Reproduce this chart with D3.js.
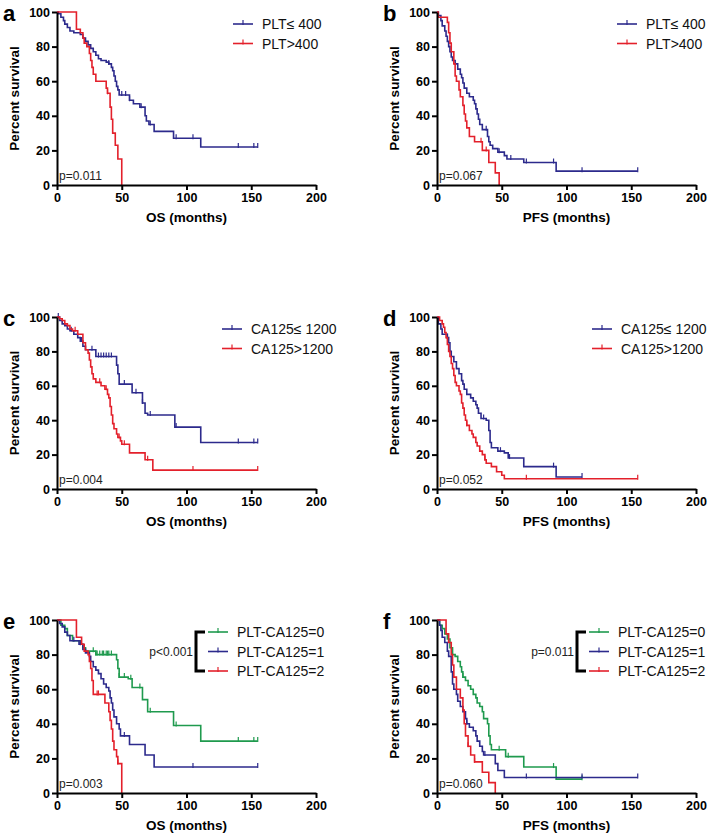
<!DOCTYPE html>
<html>
<head>
<meta charset="utf-8">
<script src="https://cdn.jsdelivr.net/npm/d3@7"></script>
<style>
  body { margin: 0; background: #fff; }
  svg { display: block; }
  text { font-family: Arial, "Liberation Sans", sans-serif; }
</style>
</head>
<body>
<div id="chart"></div>
<script>
// Kaplan-Meier steps: [time (months), survival % after the drop]
// censor arrays: times of censored patients (tick marks)

// a — OS by PLT
const osPltLowSteps = [[0,100],[1,99],[3,97],[5,95],[6,93],[8,91],[10,89],[13,88],[18,87],[20,85],[22,83],[24,81],[26,79],[28,77],[30,75],[32,73],[34,72],[38,71],[40,70],[42,68],[43,66],[44,63],[45,60],[46,57],[47,55],[48,52],[56,49],[59,47],[64,45],[68,40],[69,37],[71,35],[75,31],[90,27],[111,22]];
const osPltLowCens = [40,50,53,56,65,72,92,105,140,152,155];
const osPltHighSteps = [[0,100],[15,90],[18,88],[20,85],[21,82],[23,80],[25,76],[26,72],[27,68],[28,64],[30,60],[38,56],[39,53],[41,45],[42,38],[43,30],[45,23],[47,15],[50,0]];
const osPltHighCens = [39];

// b — PFS by PLT
const pfsPltLowSteps = [[0,100],[1,98],[3,95],[4,92],[6,89],[7,86],[8,83],[9,80],[10,77],[11,74],[12,72],[14,70],[16,67],[18,64],[19,62],[20,59],[21,56],[23,53],[25,51],[28,49],[29,47],[30,44],[31,41],[32,38],[33,35],[35,32],[39,28],[40,25],[41,23],[43,21],[47,19],[52,17],[54,15],[67,13],[92,8]];
const pfsPltLowCens = [38,48,57,69,90,112,155];
const pfsPltHighSteps = [[0,100],[1,97],[8,94],[9,88],[10,82],[11,77],[13,70],[14,63],[15,60],[17,55],[18,51],[20,46],[21,41],[22,37],[23,33],[25,28],[29,25],[35,20],[40,13],[45,7],[48,0]];
const pfsPltHighCens = [34,38];

// c — OS by CA125
const osCaLowSteps = [[0,100],[2,98],[4,96],[6,95],[8,93],[10,92],[13,90],[16,88],[18,86],[20,83],[22,81],[30,77],[46,72],[47,67],[48,61],[58,56],[66,50],[68,44],[70,43],[91,36],[111,27]];
const osCaLowCens = [1,11,19,27,32,34,36,38,40,42,52,61,66,72,92,140,152,155];
const osCaHighSteps = [[0,100],[2,99],[4,98],[6,96],[8,95],[10,93],[12,92],[16,90],[20,85],[22,81],[24,79],[25,75],[26,71],[27,67],[28,64],[30,62],[34,60],[37,58],[39,55],[40,53],[41,48],[42,43],[43,38],[44,35],[46,32],[47,30],[49,28],[50,26],[56,21],[68,17],[74,11]];
const osCaHighCens = [14,33,38,48,52,70,105,155];

// d — PFS by CA125
const pfsCaLowSteps = [[0,100],[1,96],[3,93],[4,90],[8,88],[9,85],[10,80],[11,77],[13,74],[15,70],[17,67],[19,63],[20,61],[21,58],[23,55],[26,53],[28,51],[30,49],[31,47],[32,44],[34,41],[38,40],[40,34],[41,27],[42,24],[47,22],[52,21],[55,18],[67,13],[92,7]];
const pfsCaLowCens = [8,36,49,56,90,112];
const pfsCaHighSteps = [[0,100],[2,98],[4,96],[5,94],[6,91],[7,88],[8,84],[9,80],[10,77],[11,73],[12,70],[13,66],[14,62],[15,60],[17,57],[18,55],[19,50],[20,47],[21,43],[22,40],[23,37],[25,34],[27,32],[28,30],[30,27],[31,25],[33,22],[35,20],[37,17],[38,15],[42,13],[46,10],[50,8],[52,6]];
const pfsCaHighCens = [23,37,69,155];

// e — OS by PLT-CA125 score
const osScore0Steps = [[0,100],[3,97],[6,95],[8,91],[12,88],[18,86],[20,84],[22,82],[30,80],[46,77],[47,72],[48,67],[55,66],[58,61],[66,54],[70,47],[90,39],[111,30]];
const osScore0Cens = [22,28,30,31,33,35,36,38,39,40,42,48,52,57,64,72,92,140,152,155];
const osScore1Steps = [[0,100],[2,98],[4,96],[6,93],[8,91],[10,88],[17,86],[20,83],[22,81],[25,79],[26,76],[28,73],[30,71],[32,69],[34,66],[36,63],[38,61],[40,59],[41,55],[42,52],[43,48],[44,44],[46,40],[48,37],[49,33],[56,28],[68,22],[75,15]];
const osScore1Cens = [13,18,52,105,155];
const osScore2Steps = [[0,100],[15,90],[19,86],[21,82],[24,80],[25,76],[26,72],[27,65],[28,57],[37,52],[40,47],[41,42],[42,37],[43,30],[44,25],[46,21],[47,17],[50,0]];
const osScore2Cens = [31,32,47];

// f — PFS by PLT-CA125 score
const pfsScore0Steps = [[0,100],[2,97],[4,95],[6,92],[8,89],[10,84],[12,80],[14,79],[16,76],[18,73],[19,70],[20,67],[22,65],[24,62],[26,60],[28,57],[30,55],[31,52],[33,50],[35,47],[36,43],[39,40],[40,33],[41,28],[42,25],[53,21],[67,15],[92,8]];
const pfsScore0Cens = [20,48,55,90,112];
const pfsScore1Steps = [[0,100],[2,97],[3,94],[4,90],[6,87],[8,82],[9,79],[11,70],[12,63],[13,60],[15,57],[16,53],[18,50],[20,47],[22,43],[23,40],[25,38],[28,36],[30,33],[31,30],[33,27],[35,24],[36,22],[45,17],[47,13],[52,9]];
const pfsScore1Cens = [23,37,69,112,155];
const pfsScore2Steps = [[0,100],[7,92],[9,87],[11,80],[12,74],[13,67],[15,60],[18,55],[20,48],[21,40],[22,33],[24,27],[26,22],[29,18],[35,12],[40,6],[45,0]];
const pfsScore2Cens = [24,29];

const xTicks = [0, 50, 100, 150, 200];
const yTicks = [0, 20, 40, 60, 80, 100];
const pltLabels = ['PLT\u2264 400', 'PLT>400'];
const caLabels = ['CA125\u2264 1200', 'CA125>1200'];
const scoreLabels = ['PLT-CA125=0', 'PLT-CA125=1', 'PLT-CA125=2'];

const BLUE = '#2c2a8c', RED = '#e3202b', GREEN = '#1f9a4e';

const cols = [{x0: 57, x1: 316}, {x0: 437, x1: 696}];
const rows = [{y0: 185, y1: 12}, {y0: 489, y1: 317}, {y0: 793, y1: 620}];

const panels = [
  {letter: 'a', col: 0, row: 0, xlab: 'OS (months)', p: 'p=0.011', legX: 176, labels: pltLabels,
   curves: [[osPltLowSteps, osPltLowCens, BLUE], [osPltHighSteps, osPltHighCens, RED]]},
  {letter: 'b', col: 1, row: 0, xlab: 'PFS (months)', p: 'p=0.067', legX: 180, labels: pltLabels,
   curves: [[pfsPltLowSteps, pfsPltLowCens, BLUE], [pfsPltHighSteps, pfsPltHighCens, RED]]},
  {letter: 'c', col: 0, row: 1, xlab: 'OS (months)', p: 'p=0.004', legX: 165, labels: caLabels,
   curves: [[osCaLowSteps, osCaLowCens, BLUE], [osCaHighSteps, osCaHighCens, RED]]},
  {letter: 'd', col: 1, row: 1, xlab: 'PFS (months)', p: 'p=0.052', legX: 155, labels: caLabels,
   curves: [[pfsCaLowSteps, pfsCaLowCens, BLUE], [pfsCaHighSteps, pfsCaHighCens, RED]]},
  {letter: 'e', col: 0, row: 2, xlab: 'OS (months)', p: 'p=0.003', legX: 151, labels: scoreLabels, bracket: 'p<0.001',
   curves: [[osScore0Steps, osScore0Cens, GREEN], [osScore1Steps, osScore1Cens, BLUE], [osScore2Steps, osScore2Cens, RED]]},
  {letter: 'f', col: 1, row: 2, xlab: 'PFS (months)', p: 'p=0.060', legX: 152, labels: scoreLabels, bracket: 'p=0.011',
   curves: [[pfsScore0Steps, pfsScore0Cens, GREEN], [pfsScore1Steps, pfsScore1Cens, BLUE], [pfsScore2Steps, pfsScore2Cens, RED]]}
];

const svg = d3.select('#chart').append('svg')
  .attr('width', 709).attr('height', 835);

const stepLine = d3.line().curve(d3.curveStepAfter);

function survAt(steps, t) {
  let s = steps[0][1];
  steps.forEach(d => { if (d[0] <= t) s = d[1]; });
  return s;
}

panels.forEach(p => {
  const c = cols[p.col], r = rows[p.row];
  const x = d3.scaleLinear().domain([0, 200]).range([c.x0, c.x1]);
  const y = d3.scaleLinear().domain([0, 100]).range([r.y0, r.y1]);
  const g = svg.append('g');

  // curves
  p.curves.forEach(([steps, cens, color]) => {
    const last = steps[steps.length - 1];
    const end = Math.max(last[0], d3.max(cens) || 0);
    const pts = steps.concat([[end, last[1]]]).map(d => [x(d[0]), y(d[1])]);
    g.append('path')
      .attr('d', stepLine(pts))
      .attr('fill', 'none')
      .attr('stroke', color)
      .attr('stroke-width', 1.6);
    g.selectAll(null).data(cens).enter().append('line')
      .attr('x1', d => x(d)).attr('x2', d => x(d))
      .attr('y1', d => y(survAt(steps, d)) - 4)
      .attr('y2', d => y(survAt(steps, d)) + 1)
      .attr('stroke', color)
      .attr('stroke-width', 1.2);
  });

  // axes
  const yAxis = g.append('g')
    .attr('transform', `translate(${c.x0},0)`)
    .call(d3.axisLeft(y).tickValues(yTicks).tickSize(5).tickSizeOuter(0).tickPadding(2));
  const xAxis = g.append('g')
    .attr('transform', `translate(0,${r.y0})`)
    .call(d3.axisBottom(x).tickValues(xTicks).tickSize(5).tickSizeOuter(0).tickPadding(3));
  [yAxis, xAxis].forEach(a => {
    a.select('.domain').attr('stroke', '#000').attr('stroke-width', 2);
    a.selectAll('.tick line').attr('stroke', '#000').attr('stroke-width', 2);
    a.selectAll('.tick text')
      .attr('fill', '#000')
      .style('font-family', 'Arial, "Liberation Sans", sans-serif')
      .style('font-size', '12.5px')
      .style('font-weight', 'bold');
  });

  // titles
  g.append('text')
    .attr('x', (c.x0 + c.x1) / 2).attr('y', r.y0 + 37)
    .attr('text-anchor', 'middle')
    .style('font-size', '13.5px').style('font-weight', 'bold')
    .attr('fill', '#000')
    .text(p.xlab);
  g.append('text')
    .attr('transform', `translate(${c.x0 - 38},${(r.y0 + r.y1) / 2}) rotate(-90)`)
    .attr('text-anchor', 'middle')
    .style('font-size', '13.5px').style('font-weight', 'bold')
    .attr('fill', '#000')
    .text('Percent survival');
  g.append('text')
    .attr('x', c.x0 - 54).attr('y', r.y1 + 9)
    .style('font-size', '22px').style('font-weight', 'bold')
    .attr('fill', '#000')
    .text(p.letter);
  g.append('text')
    .attr('x', c.x0 + 2).attr('y', r.y0 - 5)
    .style('font-size', '12px')
    .attr('fill', '#222')
    .text(p.p);

  // legend
  const lx = c.x0 + p.legX;
  p.labels.forEach((lab, i) => {
    const ly = r.y1 + 12 + i * 19.5;
    const color = p.curves[i][2];
    g.append('line')
      .attr('x1', lx).attr('x2', lx + 20).attr('y1', ly).attr('y2', ly)
      .attr('stroke', color).attr('stroke-width', 1.6);
    g.append('line')
      .attr('x1', lx + 10).attr('x2', lx + 10).attr('y1', ly - 4).attr('y2', ly + 1)
      .attr('stroke', color).attr('stroke-width', 1.2);
    g.append('text')
      .attr('x', lx + 29).attr('y', ly + 5)
      .style('font-size', '14px')
      .attr('fill', '#111')
      .text(lab);
  });

  if (p.bracket) {
    const bx = lx - 12, top = r.y1 + 12, bot = r.y1 + 12 + 2 * 19.5;
    g.append('path')
      .attr('d', `M${bx + 9},${top} H${bx} V${bot} H${bx + 9}`)
      .attr('fill', 'none').attr('stroke', '#000').attr('stroke-width', 3);
    g.append('text')
      .attr('x', bx - 3).attr('y', (top + bot) / 2 + 4)
      .attr('text-anchor', 'end')
      .style('font-size', '12px')
      .attr('fill', '#222')
      .text(p.bracket);
  }
});
</script>
</body>
</html>
